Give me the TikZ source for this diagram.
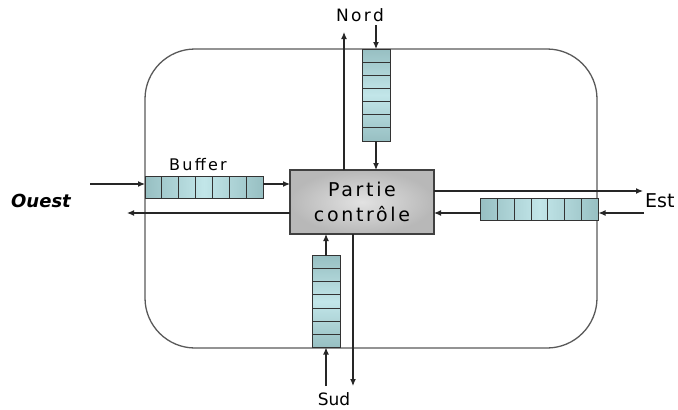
\documentclass[tikz,border=0pt]{standalone}
\usepackage{fontspec}
\setmainfont{DejaVu Sans}
\newfontfamily\widefont[LetterSpace=14]{DejaVu Sans}
\usetikzlibrary{arrows.meta,calc}
\definecolor{bufdark}{HTML}{97BFC2}
\definecolor{buflight}{HTML}{C2E6E9}
\definecolor{ctrlin}{HTML}{E2E2E2}
\definecolor{ctrlout}{HTML}{B8B8B8}
\tikzset{
  arr/.style={draw=black!85, line width=1.2pt, -{Latex[length=7pt,width=6pt]}},
  hbuf/.style={draw=black!80, line width=1pt, left color=bufdark, right color=bufdark, middle color=buflight, minimum width=118pt, minimum height=22pt, inner sep=0pt, outer sep=0pt},
  vbuf/.style={draw=black!80, line width=1pt, top color=bufdark, bottom color=bufdark, middle color=buflight, minimum width=28pt, minimum height=92pt, inner sep=0pt, outer sep=0pt},
  ctrlbox/.style={draw=black!75, line width=1.1pt, inner color=ctrlin, outer color=ctrlout, minimum width=144pt, minimum height=64pt, align=center, inner sep=0pt, outer sep=0pt, font=\widefont\fontsize{19}{25}\selectfont},
  clbl/.style={font=\widefont\fontsize{16}{18}\selectfont, inner sep=0pt},
  vlbl/.style={font=\fontsize{19}{22}\selectfont, inner sep=0pt},
  cell/.style={draw=black!80, line width=0.9pt},
}
\begin{document}
\begin{tikzpicture}[x=1pt,y=-1pt]
\useasboundingbox (0,0) rectangle (678,410);
% outer router frame
\draw[gray!70!black, line width=1.3pt, rounded corners=50pt] (145,49) rectangle (597,348);
% control unit
\node[ctrlbox] (ctrl) at (362,202) {Partie\\contrôle};
% buffers
\node[vbuf] (bn) at (376,95) {};
\node[hbuf] (bw) at (204,187.5) {};
\node[hbuf] (be) at (539.5,209.5) {};
\node[vbuf] (bs) at (326,301.5) {};
\foreach \i in {1,...,6}{
  \draw[cell] ($(bn.north west)!\i/7!(bn.south west)$) -- ($(bn.north east)!\i/7!(bn.south east)$);
  \draw[cell] ($(bs.north west)!\i/7!(bs.south west)$) -- ($(bs.north east)!\i/7!(bs.south east)$);
  \draw[cell] ($(bw.north west)!\i/7!(bw.north east)$) -- ($(bw.south west)!\i/7!(bw.south east)$);
  \draw[cell] ($(be.north west)!\i/7!(be.north east)$) -- ($(be.south west)!\i/7!(be.south east)$);
}
% labels
\node[clbl, font=\widefont\fontsize{17}{19}\selectfont] (lnord) at (360,15) {Nord};
\node[clbl] (lbuf) at (198,165) {Buffer};
\node[vlbl, font=\bfseries\itshape\fontsize{18}{21}\selectfont, anchor=west] (louest) at (11,201) {Ouest};
\node[vlbl, anchor=west] (lest) at (645,201) {Est};
\node[vlbl, font=\fontsize{17}{19}\selectfont, anchor=north] (lsud) at (334,392) {Sud};
% end coordinates
\coordinate (nin) at (376,25);
\coordinate (nout) at (344,32);
\coordinate (win) at (90,184);
\coordinate (wout) at (127,213);
\coordinate (eout) at (643,191);
\coordinate (ein) at (644,213);
\coordinate (sin) at (326,386);
\coordinate (sout) at (353,386);
% north
\draw[arr] (nin) -- (bn.north);
\draw[arr] (bn.south) -- (bn.south |- ctrl.north);
\draw[arr] (nout |- ctrl.north) -- (nout);
% west
\draw[arr] (win) -- (bw.west |- win);
\draw[arr] (bw.east |- win) -- (ctrl.west |- win);
\draw[arr] (ctrl.west |- wout) -- (wout);
% east
\draw[arr] (ctrl.east |- eout) -- (eout);
\draw[arr] (ein) -- (be.east |- ein);
\draw[arr] (be.west |- ein) -- (ctrl.east |- ein);
% south
\draw[arr] (sin) -- (bs.south);
\draw[arr] (bs.north) -- (bs.north |- ctrl.south);
\draw[arr] (sout |- ctrl.south) -- (sout);
\end{tikzpicture}
\end{document}
